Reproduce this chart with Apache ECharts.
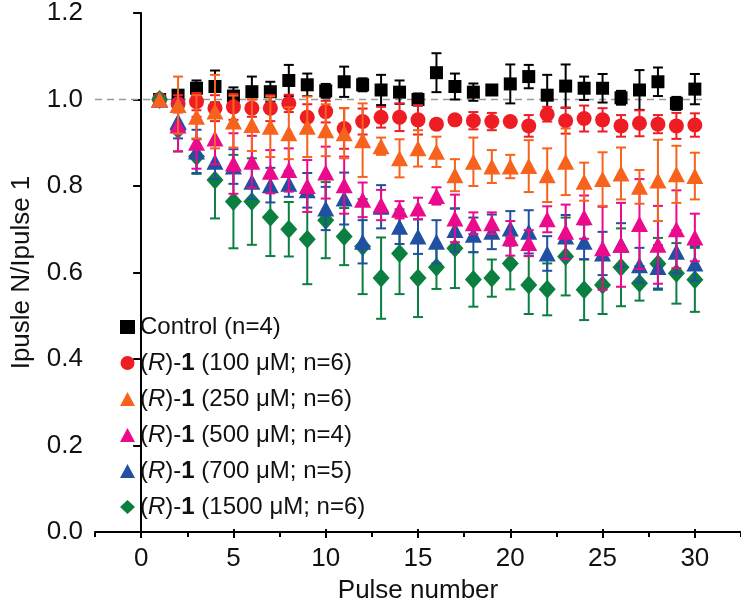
<!DOCTYPE html>
<html><head><meta charset="utf-8">
<script src="https://cdn.jsdelivr.net/npm/echarts@6/dist/echarts.min.js"></script>
<style>html,body{margin:0;padding:0;background:#fff}#c{width:741px;height:609px}</style>
</head><body><div id="c"></div>
<script>
const pulses = [1,2,3,4,5,6,7,8,9,10,11,12,13,14,15,16,17,18,19,20,21,22,23,24,25,26,27,28,29,30];
const xTickLabels = [0,5,10,15,20,25,30];
const yTickLabels = ['0.0','0.2','0.4','0.6','0.8','1.0','1.2'];

const seriesNames = ['Control (n=4)','(R)-1 (100 μM; n=6)','(R)-1 (250 μM; n=6)','(R)-1 (500 μM; n=4)','(R)-1 (700 μM; n=5)','(R)-1 (1500 μM; n=6)'];

const control = [1.00,1.01,1.026,1.03,1.008,1.018,1.018,1.044,1.034,1.02,1.041,1.034,1.022,1.017,1.0,1.062,1.03,1.017,1.022,1.036,1.053,1.01,1.031,1.026,1.026,1.004,1.022,1.041,0.991,1.024];
const controlErr = [0,0.01,0.018,0.037,0.02,0.035,0.023,0.036,0.026,0.016,0.035,0.015,0.035,0.027,0.014,0.045,0.03,0.02,0.01,0.045,0.027,0.047,0.05,0.027,0.033,0.016,0.046,0.033,0.015,0.035];

const r100 = [1.0,0.99,0.995,0.98,0.983,0.98,0.98,0.991,0.959,0.972,0.933,0.949,0.959,0.959,0.953,0.943,0.953,0.951,0.949,0.949,0.939,0.966,0.951,0.956,0.953,0.939,0.945,0.943,0.939,0.941];
const r100Err = [0,0.02,0.02,0.03,0.03,0.02,0.03,0.02,0.03,0.025,0.047,0.03,0.024,0.032,0.034,0.01,0.01,0.02,0.02,0.01,0.025,0.017,0.03,0.03,0.027,0.025,0.03,0.021,0.03,0.027];

const r250 = [1.0,0.987,0.96,0.972,0.949,0.941,0.937,0.922,0.937,0.929,0.922,0.906,0.892,0.864,0.887,0.879,0.825,0.856,0.845,0.845,0.846,0.825,0.856,0.81,0.816,0.829,0.798,0.813,0.827,0.823];
const r250Err = [0,0.066,0.05,0.085,0.06,0.06,0.07,0.06,0.07,0.06,0.058,0.085,0.02,0.044,0.042,0.035,0.037,0.056,0.038,0.027,0.06,0.062,0.077,0.044,0.062,0.06,0.039,0.094,0.066,0.054];

const r500 = [1.0,0.94,0.90,0.91,0.852,0.856,0.833,0.837,0.80,0.831,0.802,0.768,0.756,0.745,0.748,0.777,0.725,0.714,0.714,0.679,0.668,0.723,0.694,0.728,0.656,0.664,0.712,0.664,0.70,0.681];
const r500Err = [0,0.06,0.06,0.06,0.07,0.06,0.05,0.05,0.06,0.06,0.066,0.04,0.035,0.02,0.025,0.02,0.055,0.025,0.025,0.04,0.03,0.03,0.063,0.05,0.096,0.097,0.104,0.09,0.09,0.055];

const r700 = [1.0,0.95,0.88,0.856,0.845,0.81,0.802,0.805,0.79,0.748,0.771,0.671,0.752,0.706,0.683,0.671,0.698,0.687,0.694,0.702,0.694,0.644,0.683,0.671,0.644,0.664,0.617,0.613,0.648,0.621];
const r700Err = [0,0.04,0.05,0.04,0.04,0.04,0.04,0.03,0.04,0.05,0.06,0.05,0.05,0.04,0.04,0.05,0.05,0.04,0.04,0.04,0.05,0.04,0.05,0.04,0.05,0.05,0.04,0.05,0.05,0.04];

const r1500 = [1.0,0.93,0.868,0.814,0.764,0.764,0.728,0.70,0.677,0.721,0.683,0.66,0.587,0.644,0.587,0.612,0.656,0.584,0.587,0.621,0.571,0.561,0.637,0.56,0.571,0.612,0.575,0.62,0.598,0.583];
const r1500Err = [0,0.05,0.04,0.089,0.108,0.1,0.09,0.063,0.104,0.088,0.066,0.11,0.094,0.094,0.09,0.05,0.092,0.063,0.043,0.06,0.067,0.06,0.09,0.07,0.067,0.09,0.04,0.06,0.07,0.074];

const refLevel = 1.0;

const FONT = "'Liberation Sans', Arial, sans-serif";
const styles = [
  {color:'#000000', symbol:'rect', size:13},
  {color:'#ee1d24', symbol:'circle', size:15},
  {color:'#f7631d', symbol:'triangle', size:[17,16]},
  {color:'#ec0a8c', symbol:'triangle', size:[17,16]},
  {color:'#2150a3', symbol:'triangle', size:[17,16]},
  {color:'#0a7f3f', symbol:'diamond', size:[17,19]}
];
const values = [control, r100, r250, r500, r700, r1500];
const errs = [controlErr, r100Err, r250Err, r500Err, r700Err, r1500Err];
const drawOrder = [0,1,5,4,3,2];

function errRender(color){
  return function(params, api){
    const x = api.value(0), y = api.value(1), e = api.value(2);
    if (!e) return null;
    const t = api.coord([x, y+e]), b = api.coord([x, y-e]);
    const hw = 5, st = {stroke:color, lineWidth:2};
    return {type:'group', children:[
      {type:'line', shape:{x1:t[0],y1:t[1],x2:b[0],y2:b[1]}, style:st},
      {type:'line', shape:{x1:t[0]-hw,y1:t[1],x2:t[0]+hw,y2:t[1]}, style:st},
      {type:'line', shape:{x1:b[0]-hw,y1:b[1],x2:b[0]+hw,y2:b[1]}, style:st}
    ]};
  };
}

const series = [{
  type:'line', xAxisIndex:0, yAxisIndex:0, silent:true, symbol:'none', z:1,
  data:[[-2.5, refLevel],[30.4, refLevel]],
  lineStyle:{color:'#999', width:1.5, type:[7,5]}
}];
drawOrder.forEach((i, k) => {
  const data = pulses.map((p, j) => [p, values[i][j], errs[i][j]]);
  series.push({
    type:'custom', name:seriesNames[i], xAxisIndex:0, yAxisIndex:0, z:2+k*2,
    renderItem: errRender(styles[i].color), encode:{x:0, y:1}, data: data
  });
  series.push({
    type:'scatter', name:seriesNames[i], xAxisIndex:0, yAxisIndex:0, z:3+k*2,
    symbol:styles[i].symbol, symbolSize:styles[i].size,
    itemStyle:{color:styles[i].color, opacity:1},
    data: pulses.map((p, j) => [p, values[i][j]])
  });
});

const W = 646, unit = W/35;
const g2left = 95 + 2.5*unit;
const g2right = 741 - (95 + 32.5*unit);

const option = {
  animation:false,
  backgroundColor:'#fff',
  textStyle:{fontFamily:FONT},
  grid:[
    {left:95, right:0, top:13, bottom:77},
    {left:g2left, right:g2right, top:13, bottom:77}
  ],
  xAxis:[
    {type:'value', gridIndex:0, min:-2.5, max:32.5, interval:2.5,
     axisLine:{lineStyle:{color:'#000', width:2}},
     axisTick:{length:5, lineStyle:{width:2, color:'#000'}},
     axisLabel:{show:false}, splitLine:{show:false}},
    {type:'value', gridIndex:1, min:xTickLabels[0], max:xTickLabels[xTickLabels.length-1], interval:5,
     axisLine:{show:false},
     axisTick:{length:9, lineStyle:{width:2, color:'#000'}},
     axisLabel:{fontSize:26, color:'#111', margin:17, fontFamily:FONT},
     splitLine:{show:false},
     name:'Pulse number', nameLocation:'middle', nameGap:49,
     nameTextStyle:{fontSize:26, color:'#111', fontFamily:FONT}}
  ],
  yAxis:[
    {type:'value', gridIndex:0, min:0, max:1.2, interval:0.2,
     axisLine:{show:true, lineStyle:{color:'#000', width:2}},
     axisTick:{show:true, length:8, lineStyle:{width:2, color:'#000'}},
     axisLabel:{fontSize:26, color:'#111', margin:12, fontFamily:FONT,
       formatter: v => yTickLabels[Math.round(v/0.2)]},
     splitLine:{show:false},
     name:'Ipusle N/Ipulse 1', nameLocation:'middle', nameGap:60, nameRotate:90,
     nameTextStyle:{fontSize:26, color:'#111', fontFamily:FONT}},
    {type:'value', gridIndex:1, min:0, max:1.2, show:false}
  ],
  legend:{
    orient:'vertical', left:115, top:309, itemGap:10, itemWidth:15, itemHeight:14,
    selectedMode:false,
    data: seriesNames.map((n,i) => ({name:n, icon:styles[i].symbol, itemStyle:{color:styles[i].color}})),
    textStyle:{fontSize:24, color:'#111', fontFamily:FONT, lineHeight:26,
      rich:{
        n:{fontSize:24, color:'#111', fontFamily:FONT},
        i:{fontSize:24, color:'#111', fontFamily:FONT, fontStyle:'italic'},
        b:{fontSize:24, color:'#111', fontFamily:FONT, fontWeight:'bold'}
      }},
    formatter: function(name){
      if (name.indexOf('(R)-1') === 0) {
        return '{n|(}{i|R}{n|)-}{b|1}{n|' + name.slice(5) + '}';
      }
      return '{n|' + name + '}';
    }
  },
  series: series
};
const chart = echarts.init(document.getElementById('c'), null, {renderer:'canvas'});
chart.setOption(option);
</script>
</body></html>
